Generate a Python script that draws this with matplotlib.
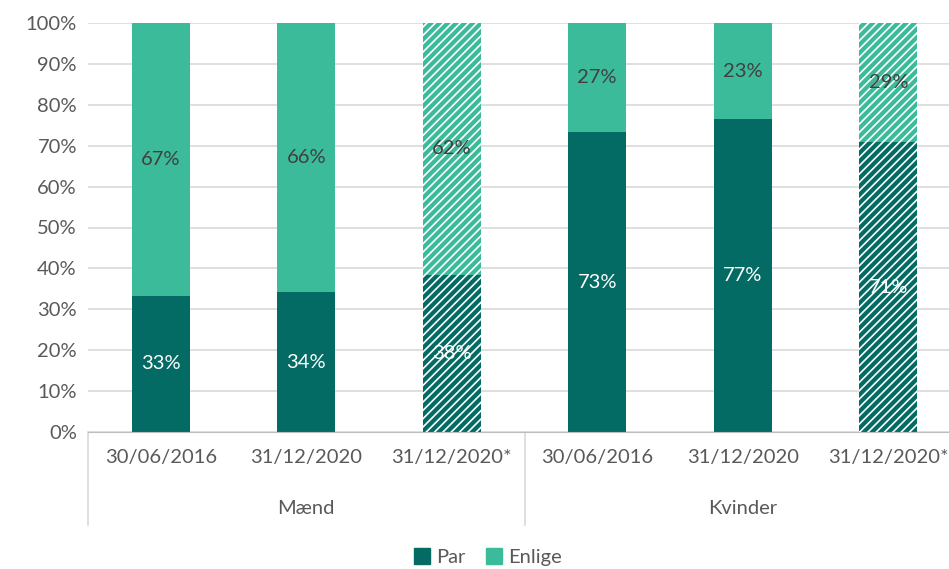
import matplotlib.pyplot as plt
from matplotlib.patches import Patch
import numpy as np

plt.rcParams['font.family'] = ['Lato', 'DejaVu Sans']
plt.rcParams['hatch.color'] = 'white'
plt.rcParams['hatch.linewidth'] = 1.2

# data
datoer = ['30/06/2016', '31/12/2020', '31/12/2020*', '30/06/2016', '31/12/2020', '31/12/2020*']
grupper = ['Mænd', 'Kvinder']
par = [33.3, 34.2, 38.4, 73.3, 76.5, 70.9]
enlige = [100 - p for p in par]
par_labels = ['33%', '34%', '38%', '73%', '77%', '71%']
enlige_labels = ['67%', '66%', '62%', '27%', '23%', '29%']
skraveret = [False, False, True, False, False, True]

c_par = '#036B64'
c_enlige = '#3CBB9A'
grey = '#595959'
fs = 14.5

fig = plt.figure(figsize=(9.49, 5.69), dpi=100)
ax = fig.add_axes([88 / 949, 137 / 569, 873 / 949, 409 / 569])

x = np.arange(len(datoer))
for i in x:
    h = '////' if skraveret[i] else None
    ax.bar(i, par[i], width=0.4, color=c_par, hatch=h, linewidth=0, zorder=2)
    ax.bar(i, enlige[i], bottom=par[i], width=0.4, color=c_enlige, hatch=h, linewidth=0, zorder=2)
    ax.text(i, par[i] / 2, par_labels[i], ha='center', va='center', color='white', fontsize=fs, zorder=3)
    ax.text(i, par[i] + enlige[i] / 2, enlige_labels[i], ha='center', va='center', color='#404040',
            fontsize=fs, zorder=3)

ax.set_xlim(-0.5, len(datoer) - 0.5)
ax.set_ylim(0, 100)
ax.set_yticks(range(0, 101, 10))
ax.set_yticklabels([f'{v}%' for v in range(0, 101, 10)])
ax.yaxis.grid(True, color='#D9D9D9', linewidth=1.2, zorder=0)
ax.set_axisbelow(True)

ax.set_xticks(x)
ax.set_xticklabels(datoer)
ax.tick_params(axis='x', length=0, pad=12, labelsize=fs, colors=grey)
ax.tick_params(axis='y', length=0, pad=8, labelsize=fs, colors=grey)

for s in ['top', 'right', 'left']:
    ax.spines[s].set_visible(False)
ax.spines['bottom'].set_color('#BFBFBF')

# group labels and separators
tr = ax.get_xaxis_transform()
for g, navn in enumerate(grupper):
    ax.text(g * 3 + 1, -77 / 409, navn, transform=tr, ha='center', va='center', fontsize=fs, color=grey)
for sx in [-0.5, 2.5, 5.5]:
    ax.plot([sx, sx], [0, -93 / 409], transform=tr, color='#D9D9D9', linewidth=1.2, clip_on=False)

handles = [Patch(color=c_par, label='Par'), Patch(color=c_enlige, label='Enlige')]
fig.legend(handles=handles, loc='center', bbox_to_anchor=(488 / 949, 1 - 557 / 569), ncol=2, frameon=False,
           fontsize=fs, labelcolor=grey, handlelength=0.8, handleheight=0.8, handletextpad=0.3,
           columnspacing=1.0)

plt.savefig('out.png', dpi=100)
